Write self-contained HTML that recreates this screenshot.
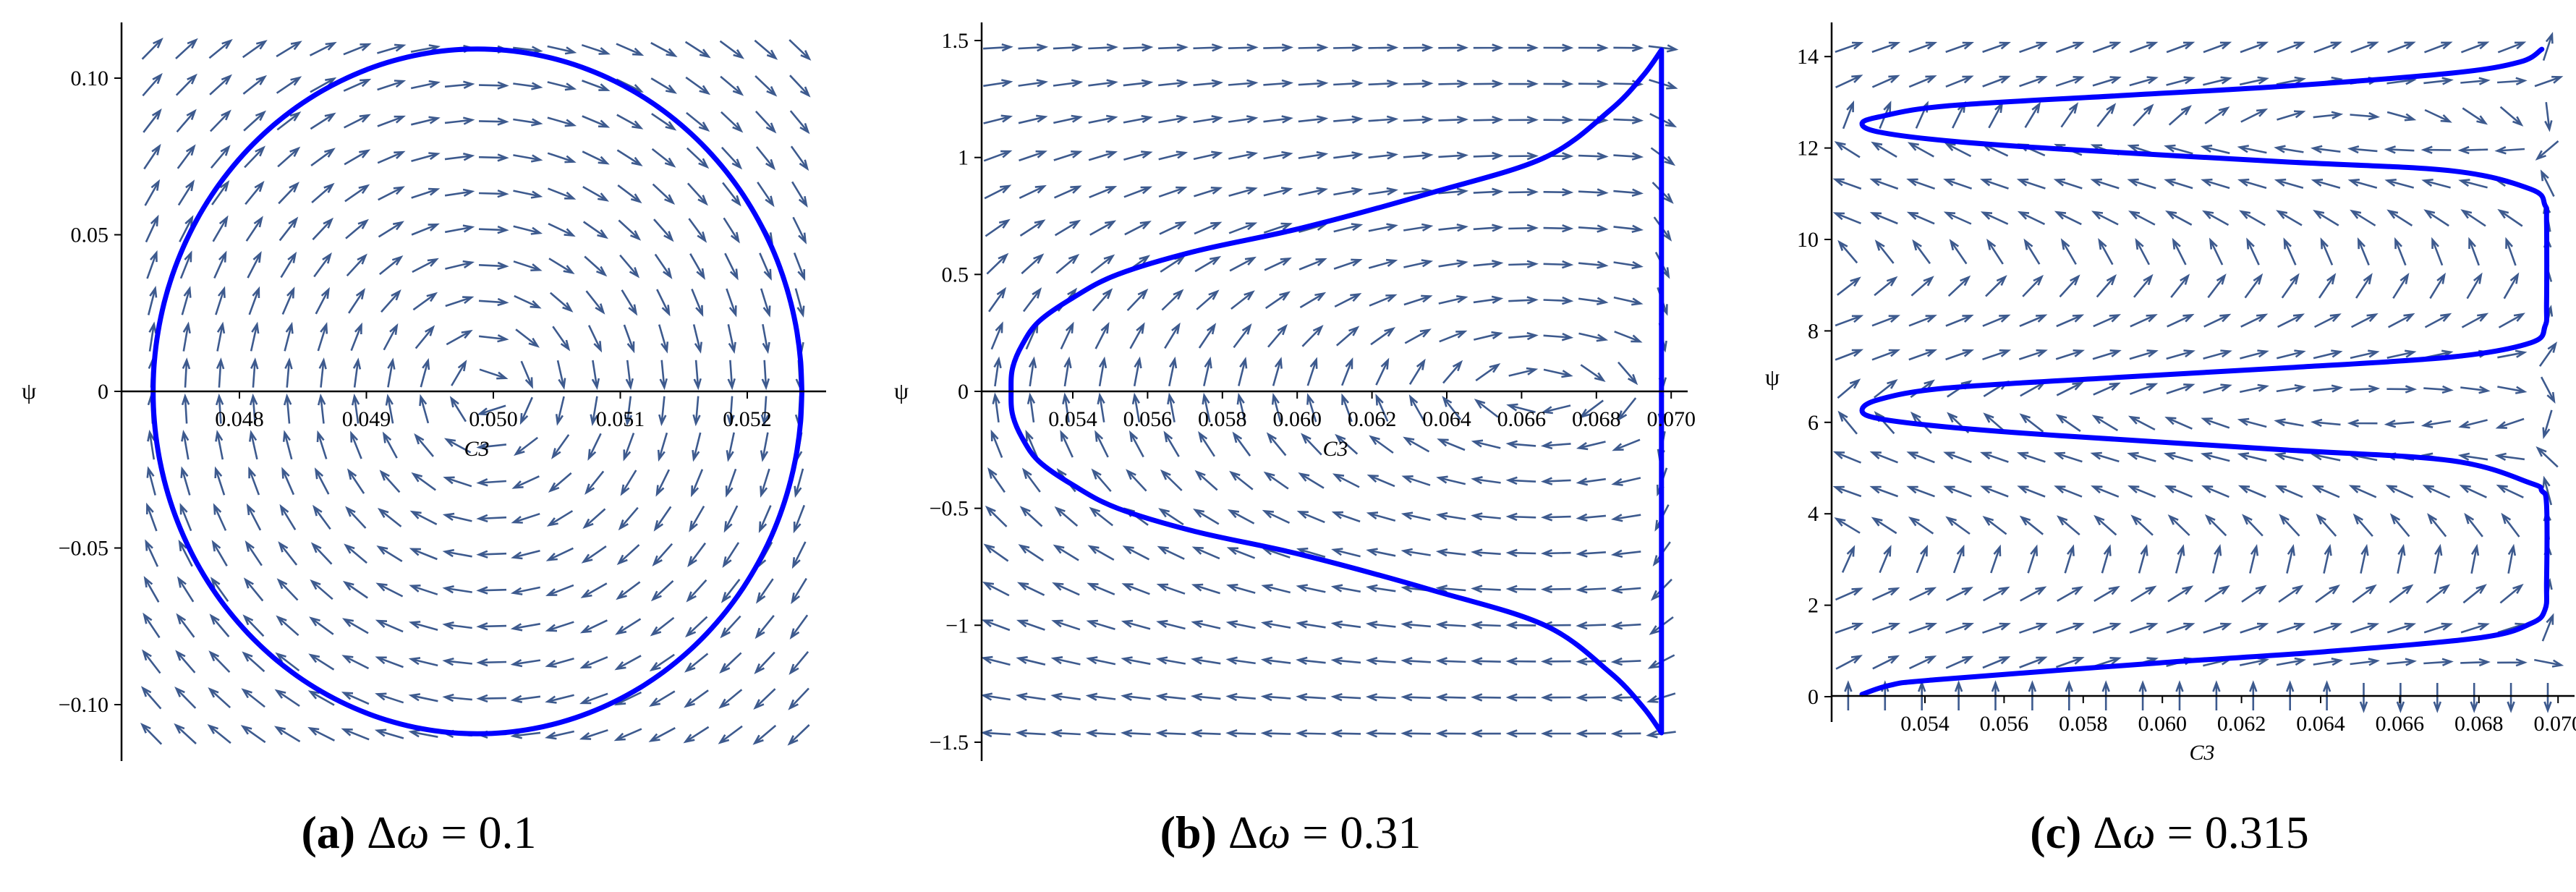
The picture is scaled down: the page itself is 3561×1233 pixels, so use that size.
<!DOCTYPE html>
<html><head><meta charset="utf-8"><style>
html,body{margin:0;padding:0;background:#fff;}
svg{display:block;}
text{font-family:"Liberation Serif",serif;fill:#000;}
</style></head><body>
<svg id="fig" width="3561" height="1233" viewBox="0 0 3561 1233" xmlns="http://www.w3.org/2000/svg">
<g id="pa"></g>
<g id="pb"></g>
<g id="pc"></g>
<text x="579" y="1172" font-size="64" text-anchor="middle"><tspan font-weight="bold">(a)</tspan> Δ<tspan font-style="italic">ω</tspan> = 0.1</text>
<text x="1784" y="1172" font-size="64" text-anchor="middle"><tspan font-weight="bold">(b)</tspan> Δ<tspan font-style="italic">ω</tspan> = 0.31</text>
<text x="2999" y="1172" font-size="64" text-anchor="middle"><tspan font-weight="bold">(c)</tspan> Δ<tspan font-style="italic">ω</tspan> = 0.315</text>
</svg>
<script>
// ---- data ----
const aXTicks = [0.048, 0.049, 0.050, 0.051, 0.052];
const aXTickLabels = ["0.048", "0.049", "0.050", "0.051", "0.052"];
const aYTicks = [0.10, 0.05, 0, -0.05, -0.10];
const aYTickLabels = ["0.10", "0.05", "0", "\u22120.05", "\u22120.10"];
const aOrbitCenter = [0.049875, 0];
const aOrbitRadii = [0.002555, 0.1093];

const bXTicks = [0.054, 0.056, 0.058, 0.060, 0.062, 0.064, 0.066, 0.068, 0.070];
const bXTickLabels = ["0.054", "0.056", "0.058", "0.060", "0.062", "0.064", "0.066", "0.068", "0.070"];
const bYTicks = [1.5, 1, 0.5, 0, -0.5, -1, -1.5];
const bYTickLabels = ["1.5", "1", "0.5", "0", "\u22120.5", "\u22121", "\u22121.5"];
const bCurveC3 = [0.06974, 0.06925, 0.06835, 0.06662, 0.06361, 0.06016, 0.05730, 0.05520, 0.05400, 0.05310, 0.05265, 0.05239, 0.05235, 0.05239, 0.05265, 0.05310, 0.05400, 0.05520, 0.05730, 0.06016, 0.06361, 0.06662, 0.06835, 0.06925, 0.06974];
const bCurvePsi = [1.46, 1.35, 1.2, 1.0, 0.85, 0.7, 0.6, 0.5, 0.4, 0.3, 0.2, 0.1, 0, -0.1, -0.2, -0.3, -0.4, -0.5, -0.6, -0.7, -0.85, -1.0, -1.2, -1.35, -1.46];

const cXTicks = [0.054, 0.056, 0.058, 0.060, 0.062, 0.064, 0.066, 0.068, 0.070];
const cXTickLabels = ["0.054", "0.056", "0.058", "0.060", "0.062", "0.064", "0.066", "0.068", "0.070"];
const cYTicks = [0, 2, 4, 6, 8, 10, 12, 14];
const cYTickLabels = ["0", "2", "4", "6", "8", "10", "12", "14"];
const cCurveC3 = [0.05241, 0.05312, 0.05426, 0.05994, 0.06405, 0.06803, 0.06931, 0.06967, 0.06971, 0.06971, 0.06959, 0.06931, 0.06732, 0.06306, 0.05738, 0.05454, 0.05284, 0.05241, 0.05284, 0.05454, 0.05880, 0.06306, 0.06732, 0.06931, 0.06967, 0.06971, 0.06971, 0.06967, 0.06931, 0.06732, 0.06306, 0.05738, 0.05454, 0.05284, 0.05241, 0.05284, 0.05454, 0.05880, 0.06306, 0.06732, 0.06903, 0.06959];
const cCurvePsi = [0.05, 0.25, 0.37, 0.74, 0.98, 1.29, 1.6, 1.9, 2.5, 4.2, 4.5, 4.67, 5.16, 5.4, 5.71, 5.9, 6.08, 6.26, 6.5, 6.75, 6.98, 7.19, 7.43, 7.74, 8.1, 8.6, 10.4, 10.75, 11.1, 11.5, 11.7, 11.98, 12.16, 12.35, 12.53, 12.68, 12.92, 13.14, 13.35, 13.64, 13.88, 14.16];
</script>
<script>
const NS = "http://www.w3.org/2000/svg";
function mk(parent, tag, attrs) {
  const e = document.createElementNS(NS, tag);
  for (const k in attrs) e.setAttribute(k, attrs[k]);
  parent.appendChild(e);
  return e;
}
function smoothPath(pts) {
  let d = "M" + pts[0][0].toFixed(1) + "," + pts[0][1].toFixed(1);
  for (let i = 0; i < pts.length - 1; i++) {
    const p0 = pts[Math.max(0, i - 1)], p1 = pts[i], p2 = pts[i + 1], p3 = pts[Math.min(pts.length - 1, i + 2)];
    const c1 = [p1[0] + (p2[0] - p0[0]) / 6, p1[1] + (p2[1] - p0[1]) / 6];
    const c2 = [p2[0] - (p3[0] - p1[0]) / 6, p2[1] - (p3[1] - p1[1]) / 6];
    d += " C" + c1[0].toFixed(1) + "," + c1[1].toFixed(1) + " " + c2[0].toFixed(1) + "," + c2[1].toFixed(1) + " " + p2[0].toFixed(1) + "," + p2[1].toFixed(1);
  }
  return d;
}
function drawArrows(g, X, Y, cols, rows, c0, c1, p0, p1, field) {
  for (let i = 0; i < cols; i++) for (let j = 0; j < rows; j++) {
    const c = c0 + (c1 - c0) * i / (cols - 1);
    const p = p0 + (p1 - p0) * j / (rows - 1);
    const v = field(c, p);
    let dx = v[0], dy = v[1];
    const L = Math.hypot(dx, dy) || 1;
    dx = dx / L * 38; dy = dy / L * 38;
    const cx = X(c), cy = Y(p);
    const x1 = cx - dx / 2, y1 = cy - dy / 2, x2 = cx + dx / 2, y2 = cy + dy / 2;
    const ux = dx / 38, uy = dy / 38;
    const hx = x2 - ux * 12, hy = y2 - uy * 12;
    const a = mk(g, "path", {d: "M" + x1.toFixed(1) + "," + y1.toFixed(1) + " L" + x2.toFixed(1) + "," + y2.toFixed(1) +
      " M" + (hx - uy * 4.5).toFixed(1) + "," + (hy + ux * 4.5).toFixed(1) + " L" + x2.toFixed(1) + "," + y2.toFixed(1) + " L" + (hx + uy * 4.5).toFixed(1) + "," + (hy - ux * 4.5).toFixed(1),
      stroke: "#3d5a8e", "stroke-width": "2.6", fill: "none"});
    
    
  }
}
function drawAxes(g, o) {
  const ax = mk(g, "line", {x1: o.yx, y1: o.yTop, x2: o.yx, y2: o.yBot, stroke: "#000", "stroke-width": "2.5"});
  
  
  const bx = mk(g, "line", {x1: o.yx, y1: o.xy, x2: o.xRight, y2: o.xy, stroke: "#000", "stroke-width": "2.5"});
  
  
  o.xt.forEach((v, i) => {
    const x = o.X(v);
    const t = mk(g, "line", {x1: x, y1: o.xy, x2: x, y2: o.xy + 10, stroke: "#000", "stroke-width": "2"});
    
    
    const l = mk(g, "text", {x: x, y: o.xy + 48, "font-size": "30", "text-anchor": "middle"});
    l.textContent = o.xl[i];
    
    
  });
  o.yt.forEach((v, i) => {
    const y = o.Y(v);
    const t = mk(g, "line", {x1: o.yx - 10, y1: y, x2: o.yx, y2: y, stroke: "#000", "stroke-width": "2"});
    
    
    const l = mk(g, "text", {x: o.yx - 18, y: y + 10, "font-size": "30", "text-anchor": "end"});
    l.textContent = o.yl[i];
    
    
  });
  const xt = mk(g, "text", {x: o.xlab[0], y: o.xlab[1], "font-size": "30", "font-style": "italic", "text-anchor": "middle"});
  xt.textContent = "C3";
  
  
  const yt = mk(g, "text", {x: o.ylab[0], y: o.ylab[1], "font-size": "32", "text-anchor": "middle"});
  yt.textContent = "\u03c8";
  
  
}
function drawCurve(g, pts, name, closeD) {
  const p = mk(g, "path", {d: smoothPath(pts) + (closeD || ""), stroke: "#0000ff", "stroke-width": "7", fill: "none", "stroke-linejoin": "round", "stroke-linecap": "round"});
  
  
}

// Panel A
(function () {
  const g = document.getElementById("pa");
  const X = c => 682 + (c - 0.050) * 175500, Y = p => 541 - p * 4330;
  drawArrows(g, X, Y, 20, 20, 0.04731, 0.05241, 0.1092, -0.1095,
    (c, p) => [p / 0.11, (c - 0.04995) / 0.0026]);
  const pts = [];
  for (let k = 0; k <= 72; k++) {
    const t = k / 72 * 2 * Math.PI;
    pts.push([X(aOrbitCenter[0] + aOrbitRadii[0] * Math.cos(t)), Y(aOrbitCenter[1] + aOrbitRadii[1] * Math.sin(t))]);
  }
  drawCurve(g, pts, "orbit-curve-a");
  drawAxes(g, {X, Y, yx: 168, yTop: 31, yBot: 1052, xy: 541, xRight: 1142, xt: aXTicks, xl: aXTickLabels, yt: aYTicks, yl: aYTickLabels, xlab: [659, 630], ylab: [40, 551]});
})();
// Panel B
(function () {
  const g = document.getElementById("pb");
  const X = c => 1483 + (c - 0.054) * 51700, Y = p => 541 - p * 323.3;
  drawArrows(g, X, Y, 20, 20, 0.05197, 0.06976, 1.469, -1.463,
    (c, p) => [Math.sin(p) * Math.min(1, Math.max(0, (0.06985 - c) / 0.0008)), -((0.0665 - c) / 0.0125) * 0.5 * Math.cos(p)]);
  const pts = bCurveC3.map((c, i) => [X(c), Y(bCurvePsi[i])]);
  drawCurve(g, pts, "orbit-curve-b", " L" + pts[0][0].toFixed(1) + "," + pts[0][1].toFixed(1));
  drawAxes(g, {X, Y, yx: 1357, yTop: 31, yBot: 1052, xy: 541, xRight: 2333, xt: bXTicks, xl: bXTickLabels, yt: bYTicks, yl: bYTickLabels, xlab: [1846, 630], ylab: [1246, 551]});
})();
// Panel C
(function () {
  const g = document.getElementById("pc");
  const X = c => 2661 + (c - 0.054) * 54700, Y = p => 963 - p * 63.2;
  drawArrows(g, X, Y, 20, 20, 0.05206, 0.06974, 0, 14.2,
    (c, p) => {
      const t = (c - 0.0525) / 0.0175;
      return [Math.sin(p) * Math.min(1, Math.max(0, (0.06984 - c) / 0.0008)), -0.35 * (1 - t * 1.45 * Math.cos(p))];
    });
  drawCurve(g, cCurveC3.map((c, i) => [X(c), Y(cCurvePsi[i])]), "orbit-curve-c");
  drawAxes(g, {X, Y, yx: 2532, yTop: 31, yBot: 998, xy: 962, xRight: 3559, xt: cXTicks, xl: cXTickLabels, yt: cYTicks, yl: cYTickLabels, xlab: [3044, 1050], ylab: [2450, 532]});
})();
</script>
</body></html>
